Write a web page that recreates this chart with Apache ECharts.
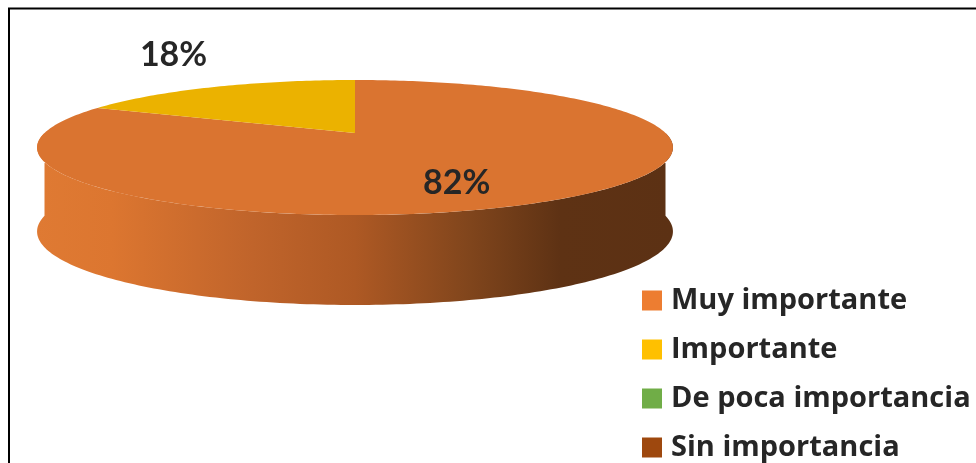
<!DOCTYPE html>
<html>
<head>
<meta charset="utf-8">
<script src="https://cdn.jsdelivr.net/npm/echarts@6/dist/echarts.min.js"></script>
<style>
html,body{margin:0;padding:0;background:#fff;}
#chart{width:976px;height:463px;}
</style>
</head>
<body>
<div id="chart"></div>
<script>
// ---- data ----
const categories = ['Muy importante', 'Importante', 'De poca importancia', 'Sin importancia'];
const values = [82, 18, 0, 0];
const legendColors = ['#ED7D31', '#FFC000', '#70AD47', '#9E480E'];
const topColors = ['#DA7430', '#EBB200', '#6AA23F', '#95440D'];

// ---- 3D pie geometry (perspective disc) ----
const CX = 355, CY = 133, RX = 310.5, RY = 64.4, B = 0.215, D0 = 82.7, D1 = 26.5;
const total = values.reduce((a, b) => a + b, 0);
const starts = [];
let acc = 0;
values.forEach(v => { starts.push(acc); acc += v; });

function proj(deg, r, down) {
  const p = deg * Math.PI / 180;
  const u = r * Math.sin(p), v = -r * Math.cos(p);
  const w = 1 / (1 - B * v);
  return [CX + RX * u * w, CY + RY * v * w + (down ? D0 + D1 * (w - 1) : 0)];
}
function arc(a0, a1, down) {
  const pts = [];
  const n = Math.max(2, Math.ceil(Math.abs(a1 - a0)));
  for (let i = 0; i <= n; i++) pts.push(proj(a0 + (a1 - a0) * i / n, 1, down));
  return pts;
}

const wallGrad = new echarts.graphic.LinearGradient(CX - RX * 1.03, 0, CX + RX * 1.03, 0, [
  { offset: 0, color: '#DF7A33' },
  { offset: 0.12, color: '#DC7630' },
  { offset: 0.34, color: '#C0642B' },
  { offset: 0.5, color: '#AE5924' },
  { offset: 0.68, color: '#80451C' },
  { offset: 0.82, color: '#5E3214' },
  { offset: 1, color: '#5C3114' }
], true);

function renderItem(params, api) {
  const i = params.dataIndex;
  const val = api.value(0);
  const children = [];
  if (!val) return { type: 'group', children };
  const a0 = starts[i] / total * 360;
  const a1 = (starts[i] + val) / total * 360;
  // visible outer wall (front half)
  const w0 = Math.max(a0, 90), w1 = Math.min(a1, 270);
  if (w1 > w0) {
    const top = arc(w0, w1, false);
    const bot = arc(w1, w0, true);
    children.push({ type: 'polygon', z2: 1, shape: { points: top.concat(bot) },
      style: { fill: wallGrad, stroke: null } });
  }
  // top face
  const pts = [[CX, CY]].concat(arc(a0, a1, false));
  children.push({ type: 'polygon', z2: 10, shape: { points: pts },
    style: { fill: topColors[i], stroke: null } });
  // label
  const mid = (a0 + a1) / 2;
  const pct = Math.round(val / total * 100) + '%';
  const share = val / total;
  let lx, ly, align, vAlign;
  if (share > 0.5) {
    const p = proj(mid, 0.55, false);
    lx = p[0]; ly = p[1] + 17; align = 'center'; vAlign = 'middle';
  } else {
    const p = proj(mid, 1, false);
    lx = p[0] - 7; ly = p[1] - 15; align = 'right'; vAlign = 'bottom';
  }
  children.push({ type: 'text', z2: 20, x: lx, y: ly,
    style: { text: pct, fill: '#262626', font: 'bold 34px Lato', align: align, verticalAlign: vAlign } });
  return { type: 'group', children };
}

const chart = echarts.init(document.getElementById('chart'), null, { renderer: 'canvas' });
chart.setOption({
  animation: false,
  backgroundColor: '#fff',
  graphic: [{
    type: 'rect', silent: true, z: 100,
    shape: { x: 9, y: 8.5, width: 1000, height: 500 },
    style: { fill: null, stroke: '#000', lineWidth: 2 }
  }],
  legend: {
    orient: 'vertical', left: 642, top: 286, height: 300, padding: 0,
    itemWidth: 20, itemHeight: 20, itemGap: 20,
    icon: 'rect',
    data: categories,
    textStyle: { fontFamily: 'Open Sans', fontWeight: 'bold', fontSize: 29, color: '#262626', lineHeight: 28, padding: [0, 0, 0, 4] }
  },
  series: [
    {
      type: 'custom', name: 'pie3d', coordinateSystem: 'none',
      renderItem: renderItem,
      data: values.map(v => [v])
    },
    {
      type: 'pie', name: 'legendSource', radius: [0, 0], center: [-100, -100],
      silent: true, label: { show: false }, labelLine: { show: false },
      data: categories.map((c, i) => ({ name: c, value: values[i], itemStyle: { color: legendColors[i] } }))
    }
  ]
});
</script>
</body>
</html>
